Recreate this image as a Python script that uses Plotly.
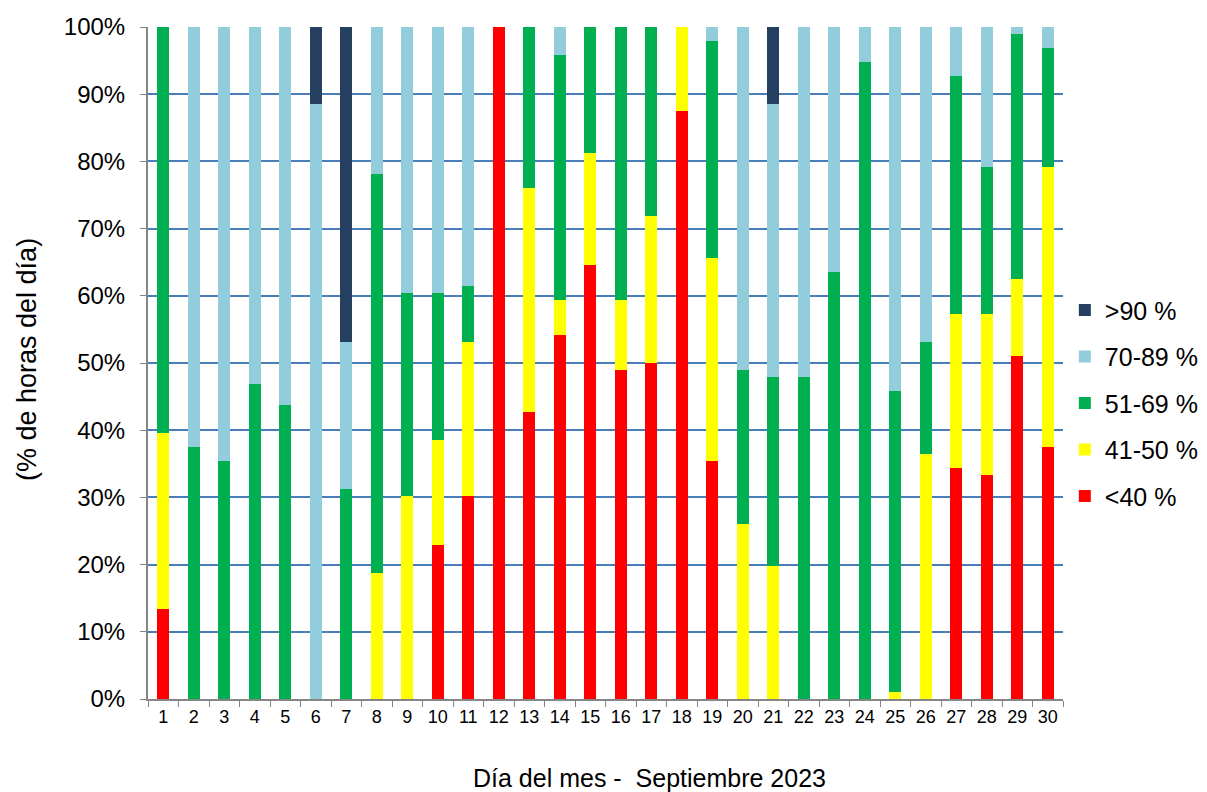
import plotly.graph_objects as go

days = [str(d) for d in range(1, 31)]

# percentage of hours of the day per humidity class
lt40 = [13.4, 0, 0, 0, 0, 0, 0, 0, 0, 22.9, 30.2, 100, 42.7, 54.2, 64.6, 49.0, 50.0, 87.5,
        35.4, 0, 0, 0, 0, 0, 0, 0, 34.4, 33.3, 51.0, 37.5]
p41_50 = [26.2, 0, 0, 0, 0, 0, 0, 18.8, 30.2, 15.6, 22.9, 0, 33.3, 5.2, 16.7, 10.4, 21.9, 12.5,
          30.2, 26.0, 19.8, 0, 0, 0, 1.0, 36.5, 22.9, 24.0, 11.5, 41.7]
p51_69 = [60.4, 37.5, 35.4, 46.9, 43.8, 0, 31.3, 59.3, 30.2, 21.9, 8.4, 0, 24.0, 36.4, 18.7, 40.6,
          28.1, 0, 32.3, 23.0, 28.1, 47.9, 63.5, 94.8, 44.8, 16.6, 35.4, 21.9, 36.5, 17.7]
p70_89 = [0, 62.5, 64.6, 53.1, 56.2, 88.5, 21.8, 21.9, 39.6, 39.6, 38.5, 0, 0, 4.2, 0, 0, 0, 0,
          2.1, 51.0, 40.6, 52.1, 36.5, 5.2, 54.2, 46.9, 7.3, 20.8, 1.0, 3.1]
gt90 = [0, 0, 0, 0, 0, 11.5, 46.9, 0, 0, 0, 0, 0, 0, 0, 0, 0, 0, 0,
        0, 0, 11.5, 0, 0, 0, 0, 0, 0, 0, 0, 0]

y_ticks = list(range(0, 101, 10))
y_tick_labels = [f"{v}%" for v in y_ticks]

series = [
    ("<40 %", lt40, "#FF0000"),
    ("41-50 %", p41_50, "#FFFF00"),
    ("51-69 %", p51_69, "#00B050"),
    ("70-89 %", p70_89, "#92CDDC"),
    (">90 %", gt90, "#243F60"),
]

fig = go.Figure()
for i, (name, vals, color) in enumerate(series):
    fig.add_trace(go.Bar(x=days, y=vals, name=name, marker_color=color,
                         marker_line_width=0, legendgroup=name,
                         legendrank=1000 - i))

font = "Liberation Sans, Arial, sans-serif"
fig.update_layout(
    barmode="stack",
    bargap=0.6,
    width=1207, height=792,
    margin=dict(l=148, r=144, t=27, b=93, autoexpand=False),
    plot_bgcolor="white", paper_bgcolor="white",
    font=dict(family=font, color="#000000"),
    showlegend=True,
    legend=dict(traceorder="grouped", x=1.002, xanchor="left", y=0.44, yanchor="middle",
                font=dict(size=25, family=font), tracegroupgap=11,
                itemwidth=30, bgcolor="rgba(0,0,0,0)"),
    xaxis=dict(type="category", tickson="boundaries", ticks="outside", ticklen=6,
               tickcolor="#868686", showline=True, linecolor="#868686", linewidth=2,
               tickfont=dict(size=18), tickangle=0, showgrid=False, automargin=False),
    yaxis=dict(range=[0, 100], tickvals=y_ticks, ticktext=y_tick_labels,
               ticks="outside", ticklen=6, ticklabelstandoff=10,
               tickcolor="#868686", showline=True, linecolor="#868686", linewidth=2,
               gridcolor="#4A7EBB", gridwidth=2, tickfont=dict(size=24),
               zeroline=False, automargin=False),
    annotations=[
        dict(text="Día del mes -  Septiembre 2023", xref="paper", yref="paper",
             x=0.5486, y=-0.1176, xanchor="center", yanchor="middle", showarrow=False,
             font=dict(size=25, family=font)),
        dict(text="(% de horas del día)", xref="paper", yref="paper",
             x=-0.1322, y=0.5045, xanchor="center", yanchor="middle", showarrow=False,
             textangle=-90, font=dict(size=27, family=font)),
    ],
)

fig.write_html("out.html", config={"displayModeBar": False},
               post_script="document.body.style.margin='0';")
